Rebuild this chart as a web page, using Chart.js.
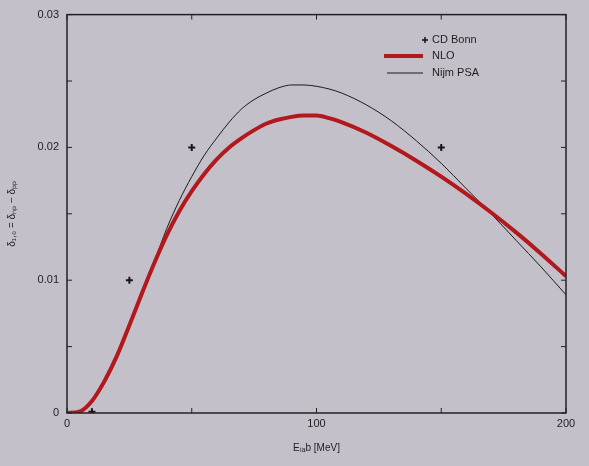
<!DOCTYPE html>
<html>
<head>
<meta charset="utf-8">
<script src="https://cdn.jsdelivr.net/npm/chart.js@4.4.1/dist/chart.umd.min.js"></script>
<style>
  html, body { margin: 0; padding: 0; background: #c4c0ca; }
  #wrap { width: 589px; height: 466px; }
</style>
</head>
<body>
<div id="wrap"><canvas id="chart" width="589" height="466"></canvas></div>
<script>
// energies (MeV) and curve values
var energies = [0, 5, 10, 15, 20, 25, 30, 35, 40, 45, 50, 55, 60, 65, 70, 75, 80, 85, 90, 95, 100, 105, 110, 120, 130, 140, 150, 160, 170, 180, 190, 200];
var nloValues = [0, 0.0001, 0.0009, 0.0024, 0.0043, 0.0066, 0.0090, 0.0113, 0.0134, 0.0152, 0.0167, 0.0180, 0.0191, 0.0200, 0.0207, 0.0213, 0.0218, 0.0221, 0.0223, 0.0224, 0.0224, 0.0222, 0.0219, 0.0211, 0.0201, 0.0190, 0.0178, 0.0165, 0.0151, 0.0136, 0.0120, 0.0103];
var nijmValues = [0, 0.0001, 0.0008, 0.0022, 0.0041, 0.0064, 0.0089, 0.0114, 0.0139, 0.0160, 0.0178, 0.0194, 0.0207, 0.0219, 0.0229, 0.0236, 0.0241, 0.0245, 0.0247, 0.0247, 0.0246, 0.0244, 0.0241, 0.0232, 0.0220, 0.0205, 0.0188, 0.0169, 0.0150, 0.0130, 0.0110, 0.0089];

// CD Bonn points
var bonnE = [10, 25, 50, 150];
var bonnValues = [0.0001, 0.0100, 0.0200, 0.0200];

var legendLabels = ['CD Bonn', 'NLO', 'Nijm PSA'];

function pairs(xs, ys) {
    var out = [];
    for (var i = 0; i < xs.length; i++) {
        out.push({x: xs[i], y: ys[i]});
    }
    return out;
}

// frame, inward ticks on all four sides, and the key
var framePlugin = {
    id: 'frame',
    afterDatasetsDraw: function(chart) {
        var ctx = chart.ctx;
        var a = chart.chartArea;
        var xs = chart.scales.x, ys = chart.scales.y;
        ctx.save();
        ctx.strokeStyle = '#222';
        ctx.lineWidth = 1.5;
        ctx.strokeRect(a.left, a.top, a.right - a.left, a.bottom - a.top);
        ctx.lineWidth = 1;
        for (var v = 0; v <= 0.03 + 1e-9; v += 0.005) {
            var py = ys.getPixelForValue(v);
            ctx.beginPath();
            ctx.moveTo(a.left, py); ctx.lineTo(a.left + 5, py);
            ctx.moveTo(a.right, py); ctx.lineTo(a.right - 5, py);
            ctx.stroke();
        }
        for (var e = 0; e <= 200; e += 50) {
            var px = xs.getPixelForValue(e);
            ctx.beginPath();
            ctx.moveTo(px, a.bottom); ctx.lineTo(px, a.bottom - 5);
            ctx.moveTo(px, a.top); ctx.lineTo(px, a.top + 5);
            ctx.stroke();
        }

        // key
        var tx = 432, rows = [40, 56, 73];
        ctx.font = '11px "Liberation Sans", Arial, sans-serif';
        ctx.fillStyle = '#1e1e1e';
        ctx.textBaseline = 'middle';
        for (var i = 0; i < legendLabels.length; i++) {
            ctx.fillText(legendLabels[i], tx, rows[i]);
        }
        ctx.strokeStyle = '#111';
        ctx.lineWidth = 1.5;
        ctx.beginPath();
        ctx.moveTo(422, rows[0]); ctx.lineTo(428, rows[0]);
        ctx.moveTo(425, rows[0] - 3); ctx.lineTo(425, rows[0] + 3);
        ctx.stroke();
        ctx.strokeStyle = '#b3191c';
        ctx.lineWidth = 4;
        ctx.beginPath();
        ctx.moveTo(384, rows[1]); ctx.lineTo(423, rows[1]);
        ctx.stroke();
        ctx.strokeStyle = '#1a1a1a';
        ctx.lineWidth = 1;
        ctx.beginPath();
        ctx.moveTo(387, rows[2]); ctx.lineTo(423, rows[2]);
        ctx.stroke();
        ctx.restore();
    }
};

var ctx = document.getElementById('chart').getContext('2d');
var config = {
    type: 'scatter',
    data: {
        datasets: [
            {
                label: legendLabels[0],
                data: pairs(bonnE, bonnValues),
                showLine: false,
                pointStyle: 'cross',
                pointRadius: 3.5,
                pointBorderWidth: 2,
                borderColor: '#151515',
                backgroundColor: '#151515'
            },
            {
                label: legendLabels[1],
                data: pairs(energies, nloValues),
                showLine: true,
                pointRadius: 0,
                borderColor: '#b3191c',
                borderWidth: 4,
                cubicInterpolationMode: 'monotone'
            },
            {
                label: legendLabels[2],
                data: pairs(energies, nijmValues),
                showLine: true,
                pointRadius: 0,
                borderColor: '#1a1a1a',
                borderWidth: 1,
                cubicInterpolationMode: 'monotone'
            }
        ]
    },
    options: {
        responsive: false,
        animation: false,
        layout: { padding: { top: 7, right: 23, left: 0, bottom: 0 } },
        plugins: {
            legend: { display: false },
            tooltip: { enabled: false }
        },
        scales: {
            x: {
                type: 'linear',
                min: 0,
                max: 200,
                afterFit: function(s) { s.height = 53; },
                grid: { display: false, drawTicks: false },
                border: { display: false },
                ticks: {
                    stepSize: 50,
                    padding: 4,
                    color: '#1e1e1e',
                    font: { family: '"Liberation Sans", Arial, sans-serif', size: 11 },
                    callback: function(v) { return v % 100 === 0 ? String(v) : ''; }
                },
                title: {
                    display: true,
                    text: 'Eₗₐb [MeV]',
                    color: '#1e1e1e',
                    font: { family: '"Liberation Sans", Arial, sans-serif', size: 10 },
                    padding: { top: 2, bottom: 12 }
                }
            },
            y: {
                type: 'linear',
                min: 0,
                max: 0.03,
                afterFit: function(s) { s.width = 67; },
                grid: { display: false, drawTicks: false },
                border: { display: false },
                ticks: {
                    stepSize: 0.005,
                    padding: 8,
                    color: '#1e1e1e',
                    font: { family: '"Liberation Sans", Arial, sans-serif', size: 11 },
                    callback: function(v) {
                        var r = Math.round(v * 1000);
                        if (r % 10 !== 0) return '';
                        return r === 0 ? '0' : String(r / 1000);
                    }
                },
                title: {
                    display: true,
                    text: 'δ₁,₀ = δₙₚ − δₚₚ',
                    color: '#1e1e1e',
                    font: { family: '"Liberation Sans", Arial, sans-serif', size: 10 },
                    padding: { top: 6, bottom: 0 }
                }
            }
        }
    },
    plugins: [framePlugin]
};

window.myChart = new Chart(ctx, config);
</script>
</body>
</html>
